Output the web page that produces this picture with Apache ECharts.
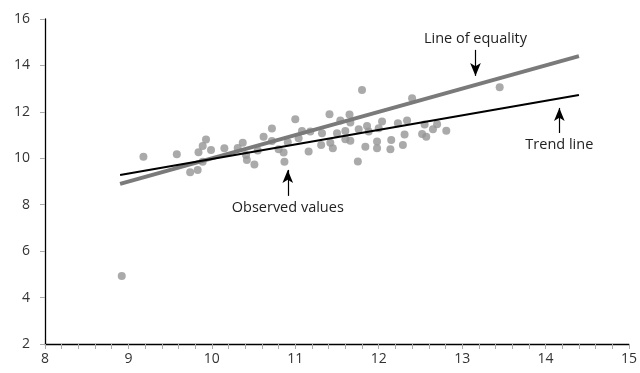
<!DOCTYPE html>
<html><head><meta charset="utf-8">
<script src="https://cdn.jsdelivr.net/npm/echarts@6/dist/echarts.min.js"></script>
<style>html,body{margin:0;padding:0;background:#fff}#c{width:640px;height:373px}</style>
</head><body><div id="c"></div>
<script>
const obsX = [8.92,9.18,9.58,9.74,9.83,9.84,9.89,9.93,9.99,9.89,10.15,10.31,10.37,10.41,10.42,10.51,10.55,10.62,10.72,10.72,10.80,10.86,10.87,10.91,11.00,11.04,11.08,11.16,11.18,11.32,11.31,11.41,11.42,11.45,11.50,11.54,11.60,11.60,11.65,11.66,11.66,11.76,11.75,11.80,11.86,11.88,11.84,11.98,11.98,12.00,12.04,12.15,12.14,12.23,12.31,12.29,12.34,12.40,12.55,12.52,12.57,12.65,12.70,12.81,13.45];
const obsY = [4.93,10.07,10.17,9.40,9.50,10.26,10.53,10.81,10.36,9.85,10.43,10.44,10.67,10.14,9.93,9.73,10.34,10.93,11.28,10.75,10.39,10.25,9.85,10.69,11.68,10.86,11.18,10.29,11.15,11.08,10.57,11.90,10.67,10.43,11.08,11.63,11.18,10.82,11.89,11.54,10.76,11.25,9.86,12.94,11.39,11.15,10.50,10.72,10.43,11.29,11.58,10.79,10.39,11.51,11.03,10.57,11.63,12.59,11.46,11.05,10.93,11.25,11.47,11.19,13.06];
const equalityX = [8.9, 14.4];
const equalityY = [8.9, 14.4];
const trendX = [8.9, 14.4];
const trendY = [9.28, 12.73];
const xTicks = [8,9,10,11,12,13,14,15];
const yTicks = [2,4,6,8,10,12,14,16];
const annotations = [
  {text:'Line of equality', x:13.16, from:14.67, to:13.55, side:'above'},
  {text:'Trend line', x:14.165, from:11.09, to:12.17, side:'below'},
  {text:'Observed values', x:10.91, from:8.38, to:9.50, side:'below'}
];

const font = '"Open Sans", "Noto Sans", sans-serif';
const chart = echarts.init(document.getElementById('c'));
const zip = (a,b)=>a.map((v,i)=>[v,b[i]]);
chart.setOption({
  animation:false,
  grid:{left:45,right:8,top:19,bottom:29,containLabel:false},
  xAxis:{type:'value',min:xTicks[0],max:xTicks[xTicks.length-1],interval:1,
    axisLine:{lineStyle:{color:'#000',width:1.3}},
    axisTick:{show:true,length:5,lineStyle:{color:'#aaa'}},
    minorTick:{show:true,splitNumber:5,length:5,lineStyle:{color:'#aaa'}},
    splitLine:{show:false},
    axisLabel:{color:'#333',fontSize:14,fontFamily:font,margin:8}},
  yAxis:{type:'value',min:yTicks[0],max:yTicks[yTicks.length-1],interval:2,
    axisLine:{show:true,lineStyle:{color:'#000',width:1.3}},
    axisTick:{show:true,length:5,lineStyle:{color:'#aaa'}},
    splitLine:{show:false},
    axisLabel:{color:'#333',fontSize:14,fontFamily:font,margin:15}},
  series:[
    {type:'scatter',data:zip(obsX,obsY),symbolSize:8,itemStyle:{color:'#959595'},z:2,
      markLine:{silent:true,symbol:['none','arrow'],symbolSize:[8,13],
        lineStyle:{color:'#000',width:1.2,type:'solid'},label:{show:false},
        data:annotations.map(a=>[{coord:[a.x,a.from]},{coord:[a.x,a.to]}])}},
    {type:'line',data:zip(equalityX,equalityY),symbol:'none',lineStyle:{color:'#7a7a7a',width:4},z:3},
    {type:'line',data:zip(trendX,trendY),symbol:'none',lineStyle:{color:'#000',width:2},z:4}
  ]
});
const g = annotations.map(a=>{
  const p = chart.convertToPixel({gridIndex:0},[a.x,a.from]);
  return {type:'text',x:p[0],y:a.side==='above'?p[1]-4:p[1]+4,
    style:{text:a.text,font:'14.5px '+font,fill:'#222',align:'center',
      verticalAlign:a.side==='above'?'bottom':'top'}};
});
chart.setOption({graphic:g});
</script></body></html>
